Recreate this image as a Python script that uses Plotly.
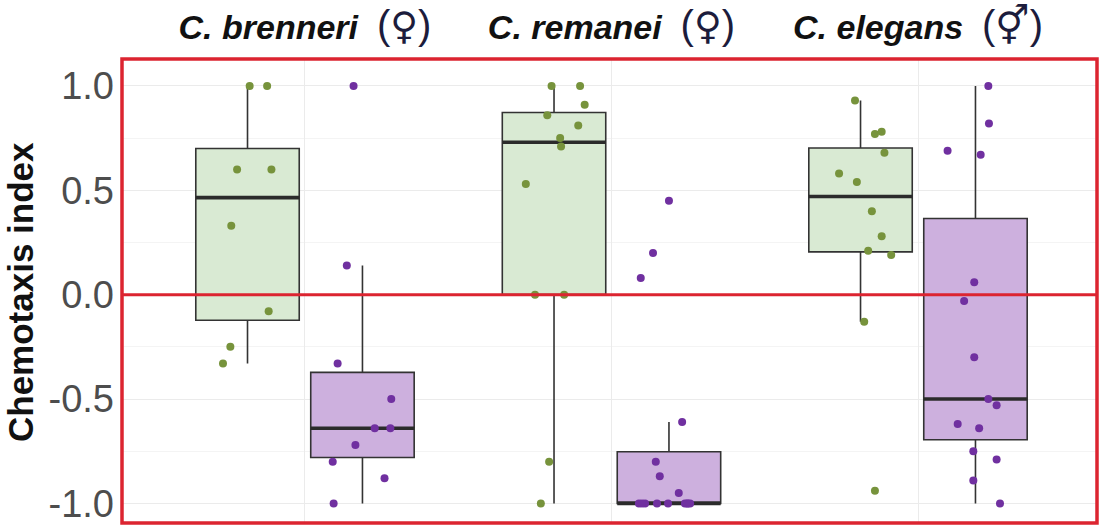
import numpy as np
import plotly.graph_objects as go

species = ["C. brenneri", "C. remanei", "C. elegans"]
sex_symbols = ["♀", "♀", "⚥"]
y_ticks = [1.0, 0.5, 0.0, -0.5, -1.0]
y_tick_labels = ["1.0", "0.5", "0.0", "-0.5", "-1.0"]

# chemotaxis index values per species, group A (green) and group B (purple)
brenneri_a = [1.0, 1.0, 0.6, 0.6, 0.33, -0.08, -0.25, -0.33]
brenneri_b = [1.0, 0.14, -0.33, -0.5, -0.64, -0.64, -0.72, -0.8, -0.88, -1.0]
remanei_a = [1.0, 1.0, 0.91, 0.86, 0.81, 0.75, 0.71, 0.53, 0.0, 0.0, -0.8, -1.0]
remanei_b = [0.45, 0.2, 0.08, -0.61, -0.8, -0.87, -0.95,
             -1.0, -1.0, -1.0, -1.0, -1.0, -1.0, -1.0, -1.0, -1.0]
elegans_a = [0.93, 0.77, 0.78, 0.68, 0.58, 0.54, 0.40, 0.28, 0.21, 0.19, -0.13, -0.94]
elegans_b = [1.0, 0.82, 0.69, 0.67, 0.06, -0.03, -0.30, -0.5, -0.53, -0.62, -0.64,
             -0.75, -0.79, -0.89, -1.0]

# horizontal jitter of each point (in category units)
brenneri_a_jit = [0.007, 0.064, -0.034, 0.078, -0.053, 0.069, -0.056, -0.080]
brenneri_b_jit = [-0.029, -0.051, -0.081, 0.094, 0.040, 0.091, -0.023, -0.097, 0.072, -0.094]
remanei_a_jit = [-0.008, 0.085, 0.100, -0.022, 0.079, 0.020, 0.023, -0.092, -0.062, 0.033, -0.016, -0.043]
remanei_b_jit = [0.0, -0.052, -0.092, 0.043, -0.043, -0.030, 0.032,
                 -0.098, -0.078, -0.039, -0.003, 0.052, 0.062, -0.088, 0.059, 0.069]
elegans_a_jit = [-0.018, 0.047, 0.069, 0.078, -0.070, -0.012, 0.037, 0.069, 0.025, 0.100, 0.012, 0.047]
elegans_b_jit = [0.042, 0.044, -0.091, 0.017, -0.004, -0.037, -0.004, 0.042, 0.069, -0.058,
                 0.012, -0.007, 0.069, -0.007, 0.080]

groups_a = [brenneri_a, remanei_a, elegans_a]
groups_b = [brenneri_b, remanei_b, elegans_b]
jit_a = [brenneri_a_jit, remanei_a_jit, elegans_a_jit]
jit_b = [brenneri_b_jit, remanei_b_jit, elegans_b_jit]

GREEN_FILL = "#d9ead3"
GREEN_DOT = "#77933c"
PURPLE_FILL = "#cdb0de"
PURPLE_DOT = "#7030a0"
BOX_LINE = "#333333"
RED = "#dc2430"

DODGE = 0.1875
BOX_W = 0.3375


def stats(vals):
    v = np.array(vals, dtype=float)
    q1, med, q3 = np.percentile(v, [25, 50, 75])
    iqr = q3 - q1
    lo = v[v >= q1 - 1.5 * iqr].min()
    hi = v[v <= q3 + 1.5 * iqr].max()
    return q1, med, q3, lo, hi


fig = go.Figure()

for i in range(3):
    cx = i + 1
    for vals, jit, off, fill, dot in [
        (groups_a[i], jit_a[i], -DODGE, GREEN_FILL, GREEN_DOT),
        (groups_b[i], jit_b[i], DODGE, PURPLE_FILL, PURPLE_DOT),
    ]:
        q1, med, q3, lo, hi = stats(vals)
        xc = cx + off
        fig.add_trace(go.Box(
            x=[xc], q1=[q1], median=[med], q3=[q3],
            lowerfence=[lo], upperfence=[hi],
            width=BOX_W, whiskerwidth=0,
            fillcolor=fill, line=dict(color=BOX_LINE, width=1.6),
            boxpoints=False, showlegend=False, hoverinfo="skip",
        ))
        fig.add_trace(go.Scatter(
            x=[xc - BOX_W / 2, xc + BOX_W / 2], y=[med, med],
            mode="lines", line=dict(color="#2b2b2b", width=3.6),
            showlegend=False, hoverinfo="skip",
        ))
        fig.add_trace(go.Scatter(
            x=[xc + j for j in jit], y=vals, mode="markers",
            marker=dict(color=dot, size=8, line=dict(width=0)),
            showlegend=False, hoverinfo="skip",
        ))

PAREN = "font-family:Liberation Sans;font-size:40px;color:#1c1c3c"
SYM = "font-family:DejaVu Sans;font-size:38px;color:#1c1c3c"
tick_text = [
    f"<b><i>{s}</i></b>  <span style='{PAREN}'>(</span>"
    f"<span style='{SYM}'>{g}</span>"
    f"<span style='{PAREN}'>)</span>"
    for s, g in zip(species, sex_symbols)
]

fig.update_layout(
    width=1107, height=526,
    margin=dict(l=122, r=10, t=59, b=3),
    paper_bgcolor="white", plot_bgcolor="white",
    font=dict(family="Liberation Sans, Arial, sans-serif"),
    xaxis=dict(
        range=[0.403, 3.584], side="top", automargin=False,
        tickvals=[1, 2, 3], ticktext=tick_text,
        tickfont=dict(size=34, color="#111111"),
        showgrid=True, gridcolor="#ebebeb", gridwidth=1,
        zeroline=False, showline=False, ticks="",
        ticklabelstandoff=12,
    ),
    yaxis=dict(
        range=[-1.094, 1.129], automargin=False,
        tickvals=y_ticks, ticktext=y_tick_labels,
        tickfont=dict(size=38, color="#4d4d4d"),
        showgrid=True, gridcolor="#ebebeb", gridwidth=1,
        minor=dict(dtick=0.25, tick0=0, showgrid=True, gridcolor="#f4f4f4", gridwidth=1),
        zeroline=False, showline=False, ticks="",
        ticklabelstandoff=7,
    ),
    annotations=[dict(
        text="<b>Chemotaxis index</b>", textangle=-90,
        xref="paper", yref="paper", x=-(122 - 20) / 975, y=(526 - 3 - 292) / 464,
        xanchor="center", yanchor="middle", showarrow=False,
        font=dict(size=35, color="#111111"),
    )],
    shapes=[
        dict(type="line", xref="paper", yref="y", x0=0, x1=1, y0=0, y1=0,
             line=dict(color=RED, width=3), layer="above"),
        dict(type="rect", xref="paper", yref="paper", x0=0, x1=1, y0=0, y1=1,
             line=dict(color=RED, width=3.5), layer="above"),
    ],
)

fig.write_html("out.html", config={"displayModeBar": False},
               post_script="document.body.style.margin='0';")
